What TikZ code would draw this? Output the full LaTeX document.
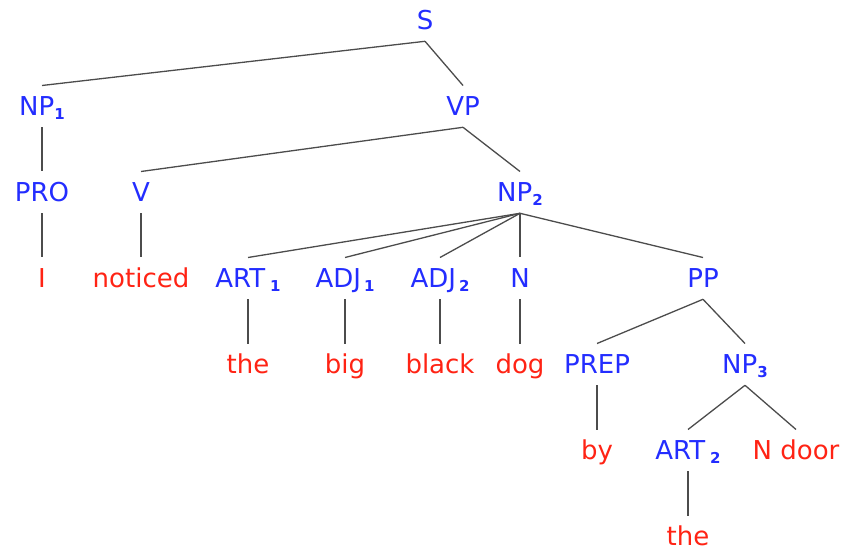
\documentclass[tikz,border=0pt]{standalone}
\usepackage{fontspec}
\setmainfont{DejaVu Sans}
\usetikzlibrary{positioning}
\definecolor{catblue}{RGB}{35,45,255}
\definecolor{wordred}{RGB}{255,35,20}
\newcommand\lsub[1]{\raisebox{-1.8pt}{\fontsize{7.5}{9}\selectfont\bfseries #1}}

\begin{document}
\begin{tikzpicture}[node distance=43pt,on grid,
  lbl/.style={inner xsep=1pt,inner ysep=5.5pt,text height=9.5pt,text depth=0pt,font=\fontsize{13}{15.6}\selectfont},
  cat/.style={lbl,text=catblue}, word/.style={lbl,text=wordred},
  branch/.style={draw=black!70,line width=0.65pt}]
\useasboundingbox (0,0) rectangle (422pt,-275pt);
\node[cat] (S) at (212.5pt,-10.2pt) {S};
\node[cat] (NPa) [below left=43pt and 191.5pt of S] {NP\lsub{1}}; \node[cat] (VP) [below right=43pt and 19pt of S] {VP};
\node[cat] (PRO) [below=of NPa] {PRO}; \node[cat] (V) [below left=43pt and 161pt of VP] {V}; \node[cat] (NPb) [below right=43pt and 28.5pt of VP] {NP\lsub{2}};
\node[word] (I) [below=of PRO] {I}; \node[word] (noticed) [below=of V] {noticed};
\node[cat] (ARTa) [below left=43pt and 136pt of NPb] {ART\hspace{2.5pt}\lsub{1}}; \node[cat] (ADJa) [below left=43pt and 87.5pt of NPb] {ADJ\hspace{1.5pt}\lsub{1}};
\node[cat] (ADJb) [below left=43pt and 40pt of NPb] {ADJ\hspace{1.5pt}\lsub{2}}; \node[cat] (N) [below=of NPb] {N}; \node[cat] (PP) [below right=43pt and 91.5pt of NPb] {PP};
\node[word] (thea) [below=of ARTa] {the}; \node[word] (big) [below=of ADJa] {big}; \node[word] (black) [below=of ADJb] {black};
\node[word] (dog) [below=of N] {dog}; \node[cat] (PREP) [below left=43pt and 53pt of PP] {PREP}; \node[cat] (NPc) [below right=43pt and 21pt of PP] {NP\lsub{3}};
\node[word] (by) [below=of PREP] {by}; \node[cat] (ARTb) [below left=43pt and 28.5pt of NPc] {ART\hspace{2.5pt}\lsub{2}}; \node[word] (Ndoor) [below right=43pt and 25.5pt of NPc] {N door};
\node[word] (theb) [below=of ARTb] {the};
\path[branch] (S.south) edge (NPa.north) edge (VP.north)
 (NPa.south) edge (PRO.north) (PRO.south) edge (I.north)
 (VP.south) edge (V.north) edge (NPb.north) (V.south) edge (noticed.north)
 (NPb.south) edge (ARTa.north) edge (ADJa.north) edge (ADJb.north) edge (N.north) edge (PP.north)
 (ARTa.south) edge (thea.north) (ADJa.south) edge (big.north) (ADJb.south) edge (black.north) (N.south) edge (dog.north)
 (PP.south) edge (PREP.north) edge (NPc.north) (PREP.south) edge (by.north)
 (NPc.south) edge (ARTb.north) edge (Ndoor.north) (ARTb.south) edge (theb.north);
\end{tikzpicture}
\end{document}
